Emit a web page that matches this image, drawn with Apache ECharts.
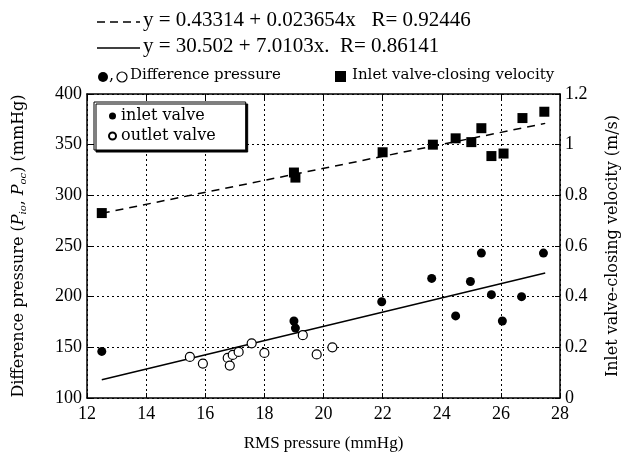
<!DOCTYPE html>
<html>
<head>
<meta charset="utf-8">
<script src="https://cdn.jsdelivr.net/npm/echarts@6/dist/echarts.min.js"></script>
<style>
  html, body { margin: 0; padding: 0; background: #fff; }
  #chart { width: 629px; height: 463px; }
</style>
</head>
<body>
<div id="chart"></div>
<script>
// RMS pressure (mmHg) vs. difference pressure, inlet valve
const inletRms = [12.5, 19.0, 19.05, 21.97, 23.66, 24.47, 24.97, 25.34, 25.68, 26.05, 26.7, 27.44];
const inletPressure = [146, 176, 169, 195, 218, 181, 215, 243, 202, 176, 200, 243];

// RMS pressure (mmHg) vs. difference pressure, outlet valve
const outletRms = [15.48, 15.92, 16.76, 16.83, 16.93, 17.13, 17.57, 18.0, 19.3, 19.77, 20.3];
const outletPressure = [140.5, 134, 139.5, 132, 142.5, 145.5, 154, 144.5, 162, 143, 150];

// RMS pressure (mmHg) vs. inlet valve-closing velocity (m/s)
const velocityRms = [12.5, 19.0, 19.05, 22.0, 23.7, 24.47, 25.0, 25.34, 25.68, 26.09, 26.73, 27.47];
const velocityValues = [0.73, 0.89, 0.87, 0.97, 1.0, 1.025, 1.01, 1.065, 0.955, 0.965, 1.105, 1.13];

// Regression lines, end points from the stated equations
const pressureFitX = [12.5, 27.5];
const pressureFitY = [118.1, 223.3];   // y = 30.502 + 7.0103x
const velocityFitX = [12.5, 27.5];
const velocityFitY = [0.729, 1.084];   // y = 0.43314 + 0.023654x

const xTicks = [12, 14, 16, 18, 20, 22, 24, 26, 28];

const FONT = 'Liberation Serif';
const WIDE = 'DejaVu Serif';
const zip = (xs, ys) => xs.map((x, i) => [x, ys[i]]);

const chart = echarts.init(document.getElementById('chart'), null, { renderer: 'canvas' });

const tickStyle = { show: true, inside: true, length: 5, lineStyle: { color: '#000', width: 1 } };
const axisLineStyle = { show: true, lineStyle: { color: '#000', width: 1.5 } };
const labelStyle = { color: '#000', fontFamily: FONT, fontSize: 18 };

chart.setOption({
  animation: false,
  backgroundColor: '#fff',
  grid: { left: 87, right: 68, top: 94, bottom: 65 },
  xAxis: [
    {
      type: 'value', min: xTicks[0], max: xTicks[xTicks.length - 1], interval: 2,
      position: 'bottom',
      name: 'RMS pressure (mmHg)', nameLocation: 'middle', nameGap: 37,
      nameTextStyle: { color: '#000', fontFamily: FONT, fontSize: 17 },
      axisLine: axisLineStyle, axisTick: tickStyle,
      axisLabel: Object.assign({ margin: 7 }, labelStyle),
      splitLine: { show: true, lineStyle: { color: '#000', type: [2, 3], width: 1 } }
    },
    {
      type: 'value', min: xTicks[0], max: xTicks[xTicks.length - 1], interval: 2,
      position: 'top',
      axisLine: axisLineStyle, axisTick: tickStyle,
      axisLabel: { show: false }, splitLine: { show: false }
    }
  ],
  yAxis: [
    {
      type: 'value', min: 100, max: 400, interval: 50, position: 'left',
      name: 'Difference pressure ({i|P}{s|io}{n|, }{i|P}{s|oc}{n|) (mmHg)}',
      nameLocation: 'middle', nameGap: 59, nameRotate: 90,
      nameTextStyle: {
        color: '#000', fontFamily: WIDE, fontSize: 16,
        rich: {
          i: { fontFamily: WIDE, fontSize: 16, fontStyle: 'italic', color: '#000' },
          s: { fontFamily: WIDE, fontSize: 10, fontStyle: 'italic', color: '#000', padding: [8, 0, 0, 0] },
          n: { fontFamily: WIDE, fontSize: 16, color: '#000' }
        }
      },
      axisLine: axisLineStyle, axisTick: tickStyle,
      axisLabel: Object.assign({ margin: 5 }, labelStyle),
      splitLine: { show: true, lineStyle: { color: '#000', type: [2, 3], width: 1 } }
    },
    {
      type: 'value', min: 0, max: 1.2, interval: 0.2, position: 'right',
      name: 'Inlet valve-closing velocity (m/s)',
      nameLocation: 'middle', nameGap: 45, nameRotate: 90,
      nameTextStyle: { color: '#000', fontFamily: WIDE, fontSize: 16 },
      axisLine: axisLineStyle, axisTick: tickStyle,
      axisLabel: Object.assign({ margin: 5, formatter: v => String(Math.round(v * 10) / 10) }, labelStyle),
      splitLine: { show: false }
    }
  ],
  legend: {
    orient: 'vertical', left: 94, top: 102,
    data: ['inlet valve', 'outlet valve'],
    itemWidth: 7, itemHeight: 7, itemGap: 4,
    padding: [6, 30, 6, 14],
    backgroundColor: '#fff', borderColor: '#000', borderWidth: 1,
    shadowColor: '#000', shadowBlur: 0, shadowOffsetX: 2, shadowOffsetY: 2,
    textStyle: { color: '#000', fontFamily: WIDE, fontSize: 16 }
  },
  series: [
    {
      name: 'pressure fit', type: 'line', xAxisIndex: 0, yAxisIndex: 0,
      data: zip(pressureFitX, pressureFitY), showSymbol: false, silent: true,
      lineStyle: { color: '#000', width: 1.5 }, z: 2
    },
    {
      name: 'velocity fit', type: 'line', xAxisIndex: 0, yAxisIndex: 1,
      data: zip(velocityFitX, velocityFitY), showSymbol: false, silent: true,
      lineStyle: { color: '#000', width: 1.5, type: [8, 6] }, z: 2
    },
    {
      name: 'outlet valve', type: 'scatter', xAxisIndex: 0, yAxisIndex: 0,
      data: zip(outletRms, outletPressure), symbol: 'circle', symbolSize: 9,
      itemStyle: { color: '#fff', borderColor: '#000', borderWidth: 1.2, opacity: 1 }, z: 3
    },
    {
      name: 'inlet valve', type: 'scatter', xAxisIndex: 0, yAxisIndex: 0,
      data: zip(inletRms, inletPressure), symbol: 'circle', symbolSize: 9,
      itemStyle: { color: '#000', opacity: 1 }, z: 4
    },
    {
      name: 'Inlet valve-closing velocity', type: 'scatter', xAxisIndex: 0, yAxisIndex: 1,
      data: zip(velocityRms, velocityValues), symbol: 'rect', symbolSize: 10,
      itemStyle: { color: '#000', opacity: 1 }, z: 4
    }
  ],
  graphic: [
    // regression key
    { type: 'line', shape: { x1: 97, y1: 22, x2: 140, y2: 22 }, style: { stroke: '#000', lineWidth: 1.5, lineDash: [8, 5] } },
    { type: 'text', left: 143, top: 10, style: { text: 'y = 0.43314 + 0.023654x   R= 0.92446', font: '21px "Liberation Serif"', fill: '#000' } },
    { type: 'line', shape: { x1: 97, y1: 48, x2: 140, y2: 48 }, style: { stroke: '#000', lineWidth: 1.5 } },
    { type: 'text', left: 143, top: 36, style: { text: 'y = 30.502 + 7.0103x.  R= 0.86141', font: '21px "Liberation Serif"', fill: '#000' } },
    // marker key
    { type: 'circle', shape: { cx: 103, cy: 77, r: 5 }, style: { fill: '#000' } },
    { type: 'text', left: 109, top: 68, style: { text: ',', font: '16px "DejaVu Serif"', fill: '#000' } },
    { type: 'circle', shape: { cx: 122, cy: 77, r: 5 }, style: { fill: '#fff', stroke: '#000', lineWidth: 1.2 } },
    { type: 'text', left: 130, top: 68, style: { text: 'Difference pressure', font: '15px "DejaVu Serif"', fill: '#000' } },
    { type: 'rect', shape: { x: 335, y: 71, width: 11, height: 11 }, style: { fill: '#000' } },
    { type: 'text', left: 352, top: 68, style: { text: 'Inlet valve-closing velocity', font: '15px "DejaVu Serif"', fill: '#000' } }
  ]
});
</script>
</body>
</html>
